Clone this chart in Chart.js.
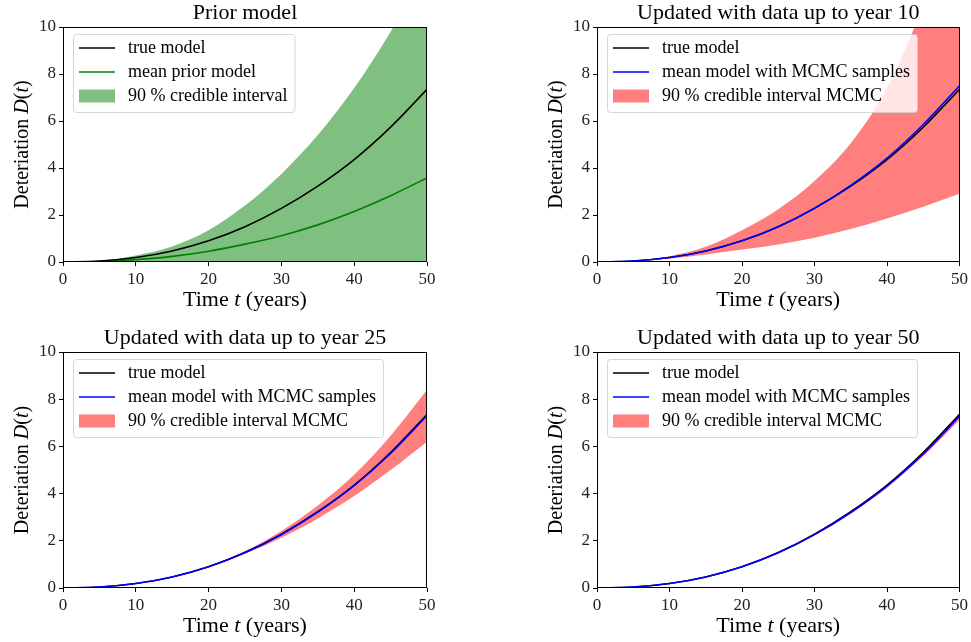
<!DOCTYPE html>
<html>
<head>
<meta charset="utf-8">
<script src="https://cdn.jsdelivr.net/npm/chart.js@4.4.1/dist/chart.umd.min.js"></script>
<style>
  body { margin: 0; background: #fff; }
  #wrap { position: relative; width: 971px; height: 642px; }
  canvas { position: absolute; }
</style>
</head>
<body>
<div id="wrap">
  <canvas id="c1" style="left:0px;top:0px;width:440px;height:320px" width="440" height="320"></canvas>
  <canvas id="c2" style="left:534px;top:0px;width:437px;height:320px" width="437" height="320"></canvas>
  <canvas id="c3" style="left:0px;top:320px;width:440px;height:322px" width="440" height="322"></canvas>
  <canvas id="c4" style="left:534px;top:320px;width:437px;height:322px" width="437" height="322"></canvas>
</div>
<script>
// values, every 5 years
const years = [0, 5, 10, 15, 20, 25, 30, 35, 40, 45, 50];
const trueModel = [0, 0.04, 0.19, 0.47, 0.9, 1.5, 2.28, 3.23, 4.36, 5.74, 7.35];

// prior
const priorMean  = [0, 0.02, 0.1, 0.24, 0.46, 0.76, 1.12, 1.58, 2.15, 2.82, 3.58];
const priorUpper = [0, 0.05, 0.28, 0.66, 1.35, 2.4, 3.75, 5.4, 7.4, 9.8, 12.6];
const priorLower = [0, 0, 0, 0, 0, 0, 0.01, 0.01, 0.02, 0.02, 0.03];

// updated with data up to year 10
const mean10  = [0, 0.04, 0.19, 0.47, 0.9, 1.5, 2.29, 3.26, 4.42, 5.85, 7.5];
const upper10 = [0, 0.05, 0.25, 0.65, 1.35, 2.25, 3.45, 5.05, 7.4, 10.9, 15];
const lower10 = [0, 0.03, 0.15, 0.32, 0.53, 0.75, 1.03, 1.4, 1.85, 2.35, 2.9];

// up to year 25
const mean25  = [0, 0.04, 0.19, 0.47, 0.9, 1.5, 2.27, 3.22, 4.34, 5.7, 7.3];
const upper25 = [0, 0.04, 0.2, 0.48, 0.93, 1.56, 2.42, 3.5, 4.8, 6.45, 8.4];
const lower25 = [0, 0.04, 0.19, 0.46, 0.88, 1.45, 2.13, 2.95, 3.9, 5.0, 6.2];

// up to year 50
const mean50  = [0, 0.04, 0.19, 0.47, 0.9, 1.49, 2.26, 3.2, 4.32, 5.68, 7.27];
const upper50 = [0, 0.04, 0.19, 0.47, 0.91, 1.51, 2.29, 3.25, 4.39, 5.78, 7.42];
const lower50 = [0, 0.04, 0.19, 0.46, 0.89, 1.47, 2.23, 3.15, 4.25, 5.58, 7.12];

const xTicks = [0, 10, 20, 30, 40, 50];
const yTicks = [0, 2, 4, 6, 8, 10];

const serif = '"Liberation Serif", "DejaVu Serif", serif';

// legend entries per canvas (kept out of the chart options)
const legendItems = {};

function pts(arr) {
  return years.map((t, i) => ({ x: t, y: arr[i] }));
}

// draws text pieces, some italic, centred on (cx, cy)
function drawRuns(ctx, runs, cx, cy, size, rotate) {
  ctx.save();
  ctx.translate(cx, cy);
  if (rotate) ctx.rotate(-Math.PI / 2);
  let total = 0;
  runs.forEach(r => {
    ctx.font = (r.it ? 'italic ' : '') + size + 'px ' + serif;
    r.w = ctx.measureText(r.t).width;
    total += r.w;
  });
  let x = -total / 2;
  ctx.fillStyle = '#000';
  ctx.textBaseline = 'middle';
  ctx.textAlign = 'left';
  runs.forEach(r => {
    ctx.font = (r.it ? 'italic ' : '') + size + 'px ' + serif;
    ctx.fillText(r.t, x, 0);
    x += r.w;
  });
  ctx.restore();
}

// frame, titles and the legend box inside the plot (matplotlib look)
const panelDeco = {
  id: 'panelDeco',
  afterDatasetsDraw(chart) {
    const ctx = chart.ctx, a = chart.chartArea;
    const items = legendItems[chart.canvas.id];
    ctx.save();
    ctx.font = '18px ' + serif;
    let w = 0;
    items.forEach(it => { w = Math.max(w, ctx.measureText(it.text).width); });
    const x0 = a.left + 10, y0 = a.top + 7, rowH = 24;
    const bw = 55 + w + 7, bh = 14 + rowH * (items.length - 1) + 16;
    ctx.beginPath();
    ctx.roundRect(x0 + 0.5, y0 + 0.5, bw, bh, 3);
    ctx.fillStyle = 'rgba(255,255,255,0.8)';
    ctx.fill();
    ctx.strokeStyle = 'rgba(204,204,204,0.8)';
    ctx.lineWidth = 1;
    ctx.stroke();
    items.forEach((it, i) => {
      const cy = y0 + 14 + i * rowH;
      if (it.kind === 'patch') {
        ctx.fillStyle = it.color;
        ctx.fillRect(x0 + 6, cy - 6.5, 36, 13);
      } else {
        ctx.strokeStyle = it.color;
        ctx.lineWidth = 1.6;
        ctx.beginPath();
        ctx.moveTo(x0 + 6, cy);
        ctx.lineTo(x0 + 42, cy);
        ctx.stroke();
      }
      ctx.fillStyle = '#000';
      ctx.textBaseline = 'middle';
      ctx.fillText(it.text, x0 + 55, cy);
    });
    ctx.restore();
  },
  afterDraw(chart, args, opts) {
    const ctx = chart.ctx, a = chart.chartArea;
    ctx.save();
    ctx.strokeStyle = '#000';
    ctx.lineWidth = 1;
    ctx.strokeRect(Math.round(a.left) + 0.5, Math.round(a.top) + 0.5,
      Math.round(a.right - a.left) - 1, Math.round(a.bottom - a.top) - 1);
    ctx.restore();
    const cx = (a.left + a.right) / 2;
    drawRuns(ctx, [{ t: opts.title }], cx, a.top - opts.titleGap, 22, false);
    drawRuns(ctx, [{ t: 'Time ' }, { t: 't', it: true }, { t: ' (years)' }],
      cx, chart.height - opts.xlabGap, 22, false);
    drawRuns(ctx, [{ t: 'Deteriation ' }, { t: 'D', it: true }, { t: '(' }, { t: 't', it: true }, { t: ')' }],
      23, (a.top + a.bottom) / 2, 20, true);
  }
};

function makePanel(id, cfg) {
  legendItems[id] = [
    { text: 'true model', color: '#000', kind: 'line' },
    { text: cfg.meanLabel, color: cfg.meanColor, kind: 'line' },
    { text: cfg.bandLabel, color: cfg.bandColor, kind: 'patch' }
  ];
  const datasets = [
    { label: 'upper', data: pts(cfg.upper), borderWidth: 0, pointRadius: 0,
      backgroundColor: cfg.bandColor, fill: '+1', order: 4 },
    { label: 'lower', data: pts(cfg.lower), borderWidth: 0, pointRadius: 0,
      backgroundColor: 'rgba(0,0,0,0)', fill: false, order: 5 },
    { label: 'true model', data: pts(trueModel), borderColor: '#000', borderWidth: 1.6,
      pointRadius: 0, fill: false, order: cfg.trueOrder },
    { label: cfg.meanLabel, data: pts(cfg.mean), borderColor: cfg.meanColor, borderWidth: 1.6,
      pointRadius: 0, fill: false, order: 2 }
  ];
  return new Chart(document.getElementById(id), {
    type: 'line',
    data: { datasets: datasets },
    options: {
      responsive: false,
      animation: false,
      events: [],
      elements: { line: { cubicInterpolationMode: 'monotone' } },
      layout: { padding: { top: cfg.top, right: cfg.right, left: 0, bottom: 0 } },
      scales: {
        x: {
          type: 'linear', min: 0, max: 50,
          afterBuildTicks: s => { s.ticks = xTicks.map(v => ({ value: v })); },
          afterFit: s => { s.height = cfg.xh; },
          grid: { drawOnChartArea: false, drawTicks: true, tickLength: 4, color: '#000' },
          border: { display: false },
          ticks: { color: '#222', padding: 3, font: { family: serif, size: 17 } }
        },
        y: {
          type: 'linear', min: 0, max: 10,
          afterBuildTicks: s => { s.ticks = yTicks.map(v => ({ value: v })); },
          afterFit: s => { s.width = 63; },
          grid: { drawOnChartArea: false, drawTicks: true, tickLength: 4, color: '#000' },
          border: { display: false },
          ticks: { color: '#222', padding: 3, font: { family: serif, size: 17 } }
        }
      },
      plugins: {
        legend: { display: false },
        tooltip: { enabled: false },
        panelDeco: { title: cfg.title, titleGap: cfg.titleGap, xlabGap: cfg.xlabGap }
      }
    },
    plugins: [panelDeco]
  });
}

const red = 'rgba(255,0,0,0.5)';

makePanel('c1', {
  title: 'Prior model', upper: priorUpper, lower: priorLower, mean: priorMean,
  meanColor: '#008000', bandColor: 'rgba(0,128,0,0.5)', trueOrder: 1,
  meanLabel: 'mean prior model', bandLabel: '90 % credible interval',
  top: 27, right: 13, xh: 58, titleGap: 14, xlabGap: 20
});
makePanel('c2', {
  title: 'Updated with data up to year 10', upper: upper10, lower: lower10, mean: mean10,
  meanColor: '#0000ff', bandColor: red, trueOrder: 3,
  meanLabel: 'mean model with MCMC samples', bandLabel: '90 % credible interval MCMC',
  top: 27, right: 11, xh: 58, titleGap: 14, xlabGap: 20
});
makePanel('c3', {
  title: 'Updated with data up to year 25', upper: upper25, lower: lower25, mean: mean25,
  meanColor: '#0000ff', bandColor: red, trueOrder: 3,
  meanLabel: 'mean model with MCMC samples', bandLabel: '90 % credible interval MCMC',
  top: 32, right: 13, xh: 54, titleGap: 14, xlabGap: 16
});
makePanel('c4', {
  title: 'Updated with data up to year 50', upper: upper50, lower: lower50, mean: mean50,
  meanColor: '#0000ff', bandColor: red, trueOrder: 3,
  meanLabel: 'mean model with MCMC samples', bandLabel: '90 % credible interval MCMC',
  top: 32, right: 11, xh: 54, titleGap: 14, xlabGap: 16
});
</script>
</body>
</html>
